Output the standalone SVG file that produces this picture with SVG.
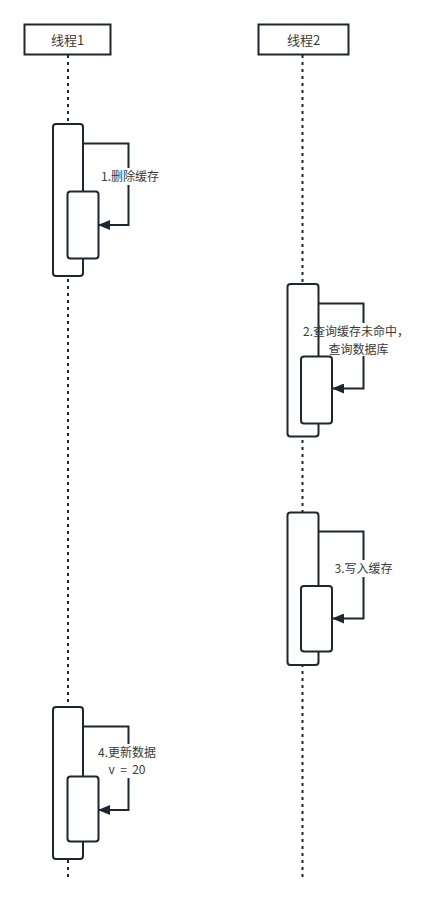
<svg xmlns="http://www.w3.org/2000/svg" width="435" height="901" viewBox="0 0 435 901">
<defs>
<style>
.hdr{fill:#fff;stroke:#1d2731;stroke-width:2}
.life{stroke:#1d2731;stroke-width:2;stroke-dasharray:3 4;fill:none}
.act{fill:#fff;stroke:#1d2731;stroke-width:2}
.msg{fill:none;stroke:#1d2731;stroke-width:2;marker-end:url(#ah)}
.t{font-family:"Noto Sans CJK SC","Microsoft YaHei",sans-serif;font-size:12px;fill:#3a3a3a;text-anchor:middle}
.bg{fill:#fff}
</style>
<marker id="ah" viewBox="0 0 12 10" refX="11" refY="5" markerWidth="12" markerHeight="10" markerUnits="userSpaceOnUse" orient="auto">
<path d="M0,0 L12,5 L0,10 Z" fill="#1d2731"/>
</marker>
</defs>
<g id="lifelines">
<line class="life" x1="68" y1="55" x2="68" y2="877"/>
<line class="life" x1="302.5" y1="55" x2="302.5" y2="877"/>
</g>
<g id="thread1">
<rect class="hdr" x="24.5" y="24.5" width="86" height="30"/>
<text class="t" x="67.5" y="44.5" style="font-size:13px">线程1</text>
</g>
<g id="thread2">
<rect class="hdr" x="258.5" y="24.5" width="90" height="30"/>
<text class="t" x="303.5" y="44.5" style="font-size:13px">线程2</text>
</g>
<g id="act1">
<rect class="act" x="53" y="124" width="30" height="152" rx="3"/>
<rect class="act" x="67.5" y="191.5" width="31" height="67" rx="3"/>
</g>
<g id="act2">
<rect class="act" x="287.5" y="284" width="31" height="152.5" rx="3"/>
<rect class="act" x="301" y="356.5" width="31" height="67" rx="3"/>
</g>
<g id="act3">
<rect class="act" x="287.5" y="512.5" width="31" height="152.5" rx="3"/>
<rect class="act" x="301" y="586" width="31" height="65.5" rx="3"/>
</g>
<g id="act4">
<rect class="act" x="53" y="707" width="30" height="152" rx="3"/>
<rect class="act" x="67.5" y="776.5" width="31" height="65" rx="3"/>
</g>
<g id="connectors">
<path class="msg" d="M83,143.5 H128.5 V225 H99"/>
<path class="msg" d="M318.5,303.5 H363.5 V388.5 H333"/>
<path class="msg" d="M318.5,531.5 H363.5 V618.5 H333"/>
<path class="msg" d="M83,726.5 H128.5 V810 H99"/>
</g>
<g id="labels">
<rect class="bg" x="123" y="168" width="11" height="17"/>
<text class="t" x="130" y="181">1.删除缓存</text>
<rect class="bg" x="358" y="323" width="11" height="33"/>
<text class="t" x="303" y="336" style="text-anchor:start">2.查询缓存未命中，</text>
<text class="t" x="358.5" y="353.5">查询数据库</text>
<rect class="bg" x="358" y="560" width="11" height="17"/>
<text class="t" x="363.5" y="573">3.写入缓存</text>
<rect class="bg" x="123" y="744" width="11" height="34"/>
<text class="t" x="127" y="757">4.更新数据</text>
<text class="t" x="127" y="773.5">v&#160;&#160;=&#160;&#160;20</text>
</g>
</svg>
